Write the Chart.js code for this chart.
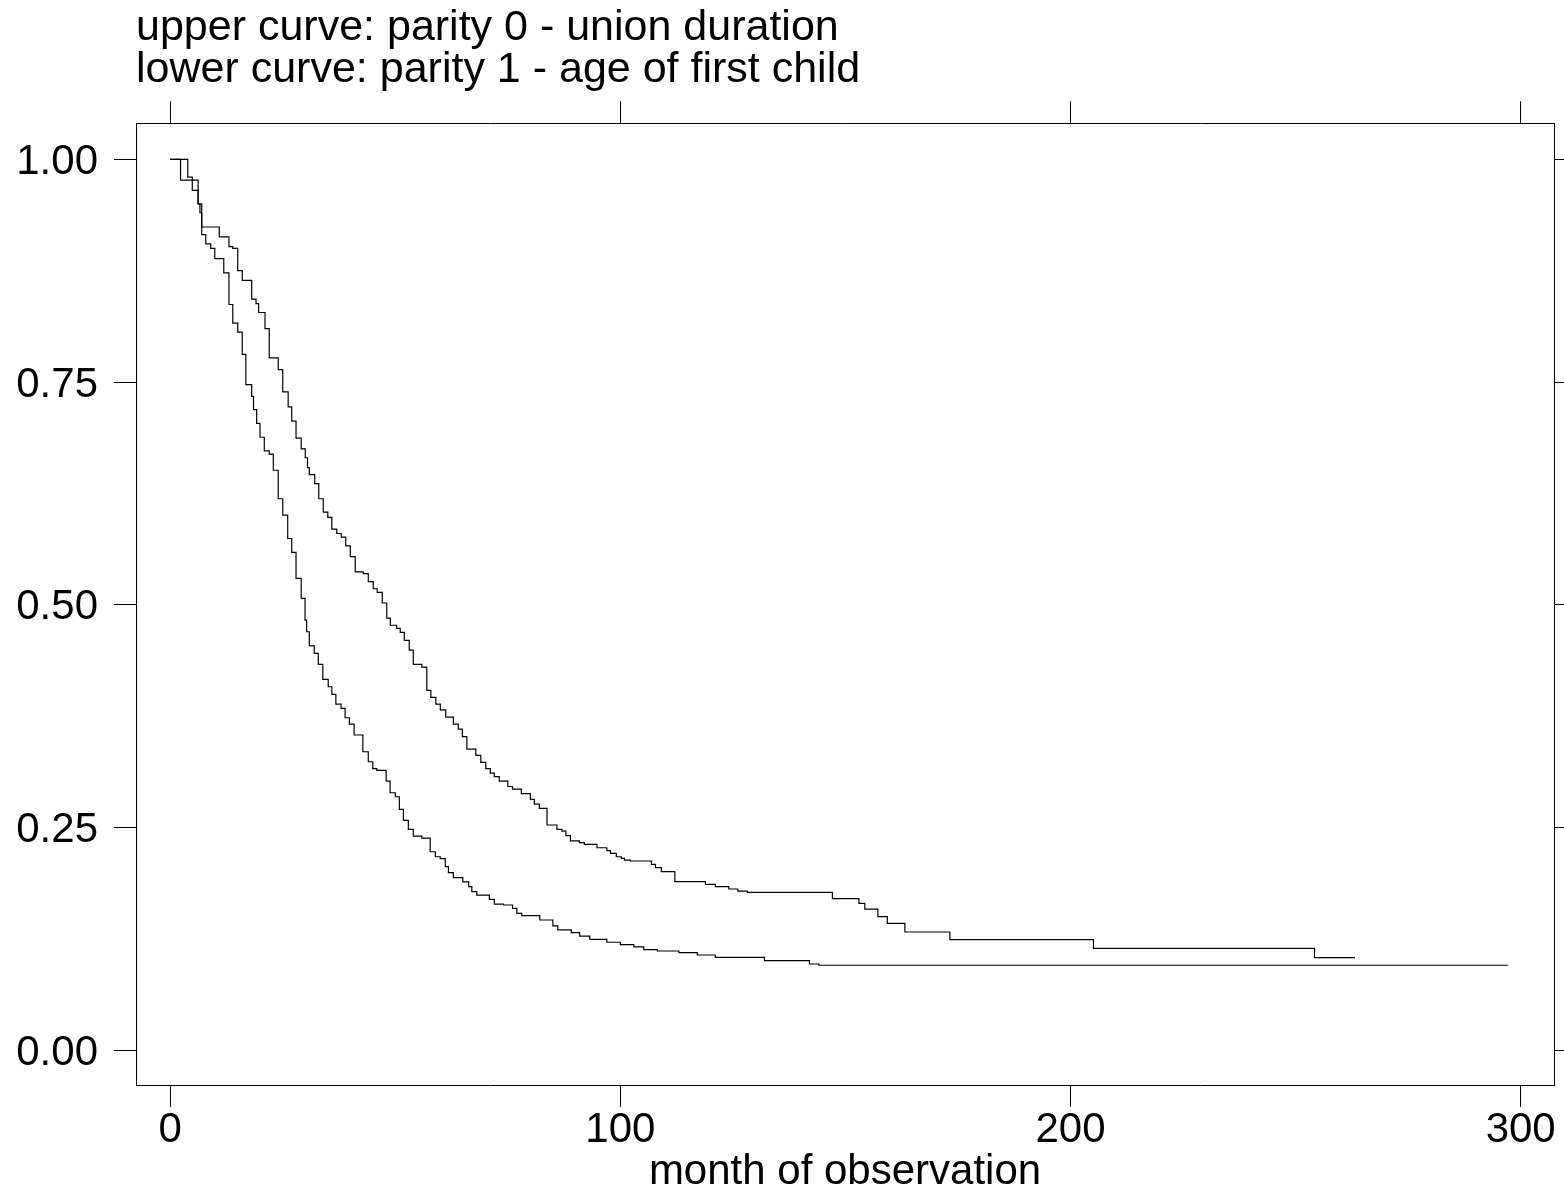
<!DOCTYPE html>
<html>
<head>
<meta charset="utf-8">
<title>Survival by parity</title>
<script src="https://cdn.jsdelivr.net/npm/chart.js@4.4.1/dist/chart.umd.min.js"></script>
<style>
  html, body { margin: 0; padding: 0; background: #fff; }
  #wrap { width: 1564px; height: 1193px; }
</style>
</head>
<body>
<div id="wrap"><canvas id="survChart" width="1564" height="1193"></canvas></div>
<script>
const titleLines = ["upper curve: parity 0 - union duration", "lower curve: parity 1 - age of first child"];
const xAxisTitle = "month of observation";
const xTicks = [0, 100, 200, 300];
const yTicks = [0, 0.25, 0.5, 0.75, 1];
const xRange = [-7.6, 307.4];
const yRange = [-0.039, 1.0404];

// upper curve: month of each drop and survival right after it
const upperMonths = [0, 3.9, 4.9, 6.2, 6.6, 7.0, 10.9, 13.05, 13.9, 15.0, 16.0, 18.1, 19.06, 19.65, 21.06, 22.0,
  24.0, 25.0, 26.2, 27.0, 27.95, 29.1, 30.0, 30.5, 30.9, 32.1, 33.0, 34.0, 35.0, 35.9, 37.0, 38.0, 39.0, 40.0,
  41.1, 42.9, 44.0, 45.1, 46.0, 47.1, 48.1, 48.9, 50.3, 51.1, 52.0, 53.1, 54.0, 55.9, 57.0, 57.9, 59.0, 60.0,
  61.2, 62.9, 64.0, 64.9, 65.9, 67.9, 69.0, 70.1, 71.1, 72.0, 73.1, 75.0, 76.05, 78.0, 80.0, 80.9, 82.0, 83.7,
  85.9, 87.0, 87.9, 88.9, 90.9, 92.0, 94.8, 97.0, 97.8, 99.1, 100.2, 100.9, 102.2, 106.9, 107.8, 109.1, 112.1,
  118.9, 121.1, 124.1, 126.1, 128.2, 147.1, 153.0, 154.3, 157.2, 159.3, 163.2, 173.2, 205.1, 254.2, 263.2];
const upperSurvival = [1.0, 0.980, 0.965, 0.950, 0.940, 0.924, 0.913, 0.902, 0.900, 0.875, 0.864, 0.843, 0.838, 0.828, 0.810, 0.777,
  0.764, 0.739, 0.722, 0.706, 0.687, 0.675, 0.665, 0.654, 0.646, 0.636, 0.619, 0.604, 0.598, 0.585, 0.580, 0.576, 0.566, 0.554,
  0.537, 0.535, 0.526, 0.518, 0.514, 0.502, 0.485, 0.477, 0.4735, 0.469, 0.460, 0.449, 0.433, 0.430, 0.404, 0.396, 0.3885, 0.382,
  0.374, 0.366, 0.3605, 0.352, 0.338, 0.331, 0.323, 0.316, 0.311, 0.307, 0.302, 0.296, 0.293, 0.288, 0.2816, 0.2763, 0.2715, 0.2528,
  0.248, 0.246, 0.241, 0.235, 0.233, 0.231, 0.2273, 0.224, 0.221, 0.2172, 0.2154, 0.2135, 0.2124, 0.2087, 0.2049, 0.2004, 0.1892,
  0.1862, 0.1836, 0.181, 0.1787, 0.1773, 0.1701, 0.1649, 0.1585, 0.1499, 0.1425, 0.1327, 0.1241, 0.1144, 0.1039, 0.1039];

// lower curve: month of each drop and survival right after it
const lowerMonths = [0, 2.3, 6.2, 7.0, 7.9, 9.0, 9.9, 11.9, 13.05, 13.9, 15.0, 16.0, 16.8, 18.1, 18.5, 19.2, 19.95,
  20.9, 22.0, 22.9, 24.0, 25.0, 26.1, 27.0, 27.95, 29.1, 29.95, 30.3, 30.9, 32.0, 32.9, 33.9, 35.1, 35.9, 36.8,
  37.96, 38.85, 39.8, 40.85, 42.8, 44.0, 45.0, 45.9, 47.97, 48.85, 50.0, 50.9, 51.8, 52.9, 54.0, 55.9, 57.75,
  58.9, 60.0, 61.1, 61.8, 62.9, 65.0, 66.3, 67.0, 68.1, 70.9, 72.0, 74.05, 76.05, 77.0, 78.1, 82.1, 85.0, 86.1,
  89.1, 90.95, 93.2, 97.0, 100.0, 103.0, 105.2, 108.2, 113.0, 117.1, 121.1, 132.0, 142.0, 144.1, 297.2];
const lowerSurvival = [1.0, 0.9765, 0.950, 0.9155, 0.905, 0.900, 0.8886, 0.8724, 0.837, 0.816, 0.806, 0.781, 0.747, 0.734, 0.719, 0.7035, 0.688,
  0.6727, 0.669, 0.651, 0.619, 0.6006, 0.5744, 0.5587, 0.5296, 0.5071, 0.4828, 0.4697, 0.4539, 0.4454, 0.433, 0.4162, 0.408, 0.3994, 0.3885,
  0.3837, 0.3732, 0.366, 0.3538, 0.335, 0.3238, 0.316, 0.3142, 0.302, 0.289, 0.2845, 0.2704, 0.258, 0.248, 0.2404, 0.238, 0.2228,
  0.2172, 0.215, 0.206, 0.1993, 0.1937, 0.189, 0.1836, 0.178, 0.1742, 0.1694, 0.1641, 0.163, 0.1593, 0.1537, 0.151, 0.1462, 0.1395, 0.135,
  0.132, 0.1282, 0.1245, 0.1212, 0.1185, 0.116, 0.113, 0.1114, 0.1095, 0.1069, 0.1043, 0.1005, 0.0968, 0.0954, 0.0954];

const FONT_FAMILY = "'Liberation Sans', Arial, Helvetica, sans-serif";
const textFont = { family: FONT_FAMILY, size: 42, weight: "normal", lineHeight: 1 };
const titleFont = { family: FONT_FAMILY, size: 43, weight: "normal", lineHeight: 0.98 };

function toPoints(months, survival) {
  return months.map((m, i) => ({ x: m, y: survival[i] }));
}

function fixedTicks(values) {
  return (scale) => {
    scale.ticks = values.map((value) => ({ value }));
  };
}

const tickMarks = { display: true, drawOnChartArea: false, drawTicks: true, tickLength: 22, color: "#000", lineWidth: 1 };
const boxLine = { display: true, color: "#000", width: 1 };

const curveStyle = { borderColor: "#000", borderWidth: 1.2, pointRadius: 0, fill: false, stepped: "before", tension: 0 };

new Chart(document.querySelector("#survChart"), {
  type: "line",
  data: {
    datasets: [
      { label: "parity 0 - union duration", data: toPoints(upperMonths, upperSurvival), ...curveStyle },
      { label: "parity 1 - age of first child", data: toPoints(lowerMonths, lowerSurvival), ...curveStyle },
    ],
  },
  options: {
    responsive: false,
    animation: false,
    events: [],
    layout: { padding: 0 },
    plugins: {
      legend: { display: false },
      tooltip: { enabled: false },
      title: {
        display: true,
        text: titleLines,
        align: "start",
        fullSize: false,
        color: "#000",
        font: titleFont,
        padding: { top: 7, bottom: 0 },
      },
    },
    scales: {
      x: {
        type: "linear",
        position: "bottom",
        min: xRange[0],
        max: xRange[1],
        afterBuildTicks: fixedTicks(xTicks),
        afterFit: (s) => { s.height = 108; },
        grid: tickMarks,
        border: boxLine,
        ticks: { color: "#000", font: textFont, padding: 2, maxRotation: 0, callback: (v) => String(v) },
        title: { display: true, text: xAxisTitle, color: "#000", font: textFont, padding: { top: 0, bottom: 0 } },
      },
      x2: {
        type: "linear",
        position: "top",
        min: xRange[0],
        max: xRange[1],
        afterBuildTicks: fixedTicks(xTicks),
        afterFit: (s) => { s.height = 32; },
        grid: tickMarks,
        border: boxLine,
        ticks: { display: false },
      },
      y: {
        type: "linear",
        position: "left",
        min: yRange[0],
        max: yRange[1],
        afterBuildTicks: fixedTicks(yTicks),
        afterFit: (s) => { s.width = 136; },
        grid: tickMarks,
        border: boxLine,
        ticks: { color: "#000", font: textFont, padding: 16, labelOffset: 3, callback: (v) => v.toFixed(2) },
      },
      y2: {
        type: "linear",
        position: "right",
        min: yRange[0],
        max: yRange[1],
        afterBuildTicks: fixedTicks(yTicks),
        afterFit: (s) => { s.width = 10; },
        grid: tickMarks,
        border: boxLine,
        ticks: { display: false },
      },
    },
  },
});
</script>
</body>
</html>
